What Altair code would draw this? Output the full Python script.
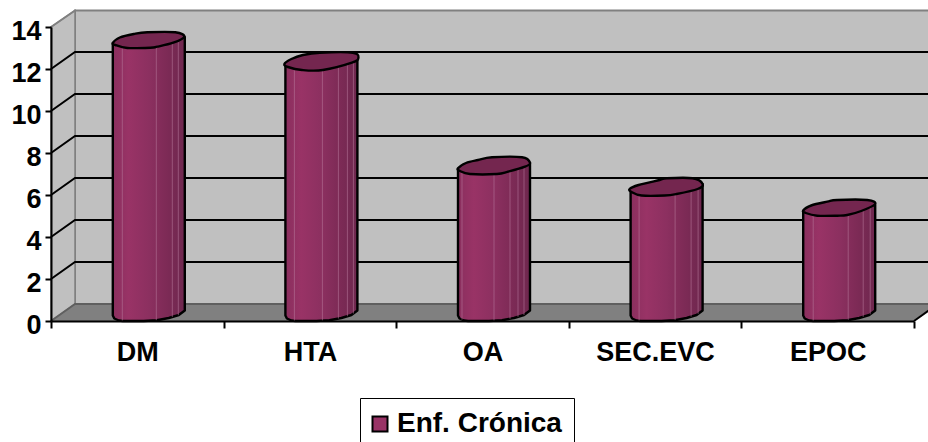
import altair as alt
import numpy as np
import pandas as pd

# Chart values
categories = ["DM", "HTA", "OA", "SEC.EVC", "EPOC"]
values = [13, 12, 7, 6, 5]
series_name = "Enf. Crónica"
y_levels = [0, 2, 4, 6, 8, 10, 12, 14]

# Plot frame and the depth of the pseudo-3D box, in pixels
PLOT_W, PLOT_H = 863, 294
DEPTH_X, DEPTH_Y = 24, 17
UX = 5 / PLOT_W          # x data units per pixel
UY = 14 / PLOT_H         # y data units per pixel
dx = DEPTH_X * UX
dy = DEPTH_Y * UY
TOP = 310.5 * UY         # upper edge of the back wall
X_END = 5 + dx

# Cylinder geometry, in pixels relative to the centre of each column
HALF = 36
CENTER_SHIFT = 11.5
bottom_dx = [-36, -34.5, -30, -26, -5, 8, 20, 30, 36]
bottom_px = [5.5, 2.5, 0.5, 0, 0, 0.8, 3, 6, 10.5]

# Outline of each top cap, relative to the point at the column's value
cap_outlines = {
    "DM": [(-36, -5), (-29, -10.5), (-15, -14), (-1.5, -15.7), (26.5, -15.7), (35.5, -11.3),
           (24.5, -5.3), (8.5, -1.3), (1.5, -0.3), (-21.5, 0), (-33.5, -3)],
    "HTA": [(-37, -5), (-30, -10), (-18.5, -14), (-1.5, -16.3), (31.5, -16.3), (37, -11),
            (30.5, -6.3), (1.5, 1), (-19.5, 1), (-33.5, -2)],
    "OA": [(-36, -5.7), (-28, -11), (-16, -14), (-2, -16.7), (28, -16.7), (36, -11.3),
           (31, -7.3), (14, -2.3), (3, 0), (-24, 0), (-34, -3)],
    "SEC.EVC": [(-37, -6), (-28, -10), (-7, -15), (0, -16.7), (26, -16.7), (36, -11),
                (31, -6), (10, -1), (-2, 0.5), (-25, 0.5), (-35, -3)],
    "EPOC": [(-36, -5.5), (-28, -10.5), (-12, -14.3), (-2, -16), (28, -16), (36, -12),
             (22, -5), (8, -1), (-2, -0.3), (-22, -0.3), (-33.5, -3)],
}

# Thin pale seams on the cylinder faces
seam_offsets = {
    "DM": [-26.5, 7.5, 23.5, 29.5],
    "HTA": [-27, 1, 17, 26, 32],
    "OA": [-32, 0, 16, 24, 30],
    "SEC.EVC": [-27.5, 8.5, 24.5, 31.5],
    "EPOC": [-26, 9, 24, 31],
}


def smooth_path(points):
    """Closed SVG path through an outline, using Catmull-Rom tangents."""
    n = len(points)
    d = f"M{points[0][0]:.2f},{points[0][1]:.2f}"
    for i in range(n):
        p0, p1, p2, p3 = (points[(i + k) % n] for k in (-1, 0, 1, 2))
        c1 = (p1[0] + (p2[0] - p0[0]) / 6, p1[1] + (p2[1] - p0[1]) / 6)
        c2 = (p2[0] - (p3[0] - p1[0]) / 6, p2[1] - (p3[1] - p1[1]) / 6)
        d += f"C{c1[0]:.2f},{c1[1]:.2f},{c2[0]:.2f},{c2[1]:.2f},{p2[0]:.2f},{p2[1]:.2f}"
    return d + "Z"


def center_x(i):
    return i + 0.5 + CENTER_SHIFT * UX


def shoulder_px(offset):
    """Height of the hidden rear edge of the cap above the value point."""
    return 5 + (offset + HALF) / (2 * HALF) * 6


# Tables built from the arrays above
body_rows, seam_rows = [], []
for i, (cat, val) in enumerate(zip(categories, values)):
    for off in sorted(set(bottom_dx)):
        body_rows.append({
            "cat": cat,
            "x": center_x(i) + off * UX,
            "top": val + shoulder_px(off) * UY,
            "base": np.interp(off, bottom_dx, bottom_px) * UY,
        })
    for off in seam_offsets[cat]:
        seam_rows.append({
            "x": center_x(i) + off * UX,
            "top": val + shoulder_px(off) * UY,
            "base": np.interp(off, bottom_dx, bottom_px) * UY,
        })
body_df = pd.DataFrame(body_rows)
seam_df = pd.DataFrame(seam_rows)
cap_df = pd.DataFrame({
    "cat": categories,
    "x": [center_x(i) for i in range(len(categories))],
    "value": values,
    "cap": [smooth_path(cap_outlines[c]) for c in categories],
})

grid_rows = []
for level in y_levels:
    for x_pos, y_pos in [(0, level), (dx, level + dy), (X_END, level + dy)]:
        grid_rows.append({"level": level, "x": x_pos, "y": y_pos})
grid_df = pd.DataFrame(grid_rows)
inner_grid = grid_df[~grid_df.level.isin([0, 14])]

axis_font = dict(labelFont="Liberation Sans", labelFontWeight="bold", labelFontSize=27, labelColor="black")

x_num = alt.Scale(domain=[0, 5], nice=False, zero=False)
y_num = alt.Scale(domain=[0, 14], nice=False)
# Every layer shares one value axis, drawn above the marks
y_axis_spec = alt.Axis(
    title=None, values=y_levels, grid=False, domainColor="black", domainWidth=2,
    tickColor="black", tickWidth=2, tickSize=6, labelPadding=4, labelOffset=4, zindex=1, **axis_font,
)
X = lambda f: alt.X(f, type="quantitative", scale=x_num, axis=None)
Y = lambda f: alt.Y(f, type="quantitative", scale=y_num, axis=y_axis_spec)

# Back wall, side wall and floor of the box
wall = alt.Chart(pd.DataFrame({"x": [dx], "x2": [X_END + 0.2], "y": [dy], "y2": [TOP]})).mark_rect(
    fill="#c0c0c0", stroke="#808080", strokeWidth=2
).encode(x=X("x"), x2="x2", y=Y("y"), y2="y2")

side = alt.Chart(pd.DataFrame({
    "x": [0, dx], "y": [14, TOP], "y2": [0, dy]
})).mark_area(fill="#c0c0c0", stroke="#808080", strokeWidth=1.5).encode(x=X("x"), y=Y("y"), y2="y2")

floor = alt.Chart(pd.DataFrame({
    "x": [0, dx, 5, X_END], "y": [0, dy, dy, dy], "y2": [0, 0, 0, dy]
})).mark_area(fill="#808080").encode(x=X("x"), y=Y("y"), y2="y2")

floor_back = alt.Chart(grid_df[grid_df.level == 0]).mark_line(
    color="#5f5f5f", strokeWidth=2
).encode(x=X("x"), y=Y("y"), detail="level:N")

top_edge = alt.Chart(grid_df[grid_df.level == 14].iloc[:2].assign(
    y=[14, TOP]
)).mark_line(color="#808080", strokeWidth=2).encode(x=X("x"), y=Y("y"))

floor_edge = alt.Chart(pd.DataFrame({"x": [5, X_END], "y": [0, dy]})).mark_line(
    color="black", strokeWidth=2
).encode(x=X("x"), y=Y("y"))

grid = alt.Chart(inner_grid).mark_line(color="black", strokeWidth=2).encode(
    x=X("x"), y=Y("y"), detail="level:N"
)

# Cylinder bodies
shade = alt.Gradient(
    gradient="linear", x1=0, y1=0, x2=1, y2=0,
    stops=[
        alt.GradientStop(color="#8a2f5e", offset=0),
        alt.GradientStop(color="#993366", offset=0.22),
        alt.GradientStop(color="#8c3060", offset=0.5),
        alt.GradientStop(color="#7f2b57", offset=0.72),
        alt.GradientStop(color="#6e274e", offset=1),
    ],
)
bodies = alt.Chart(body_df).mark_area(fill=shade, stroke="black", strokeWidth=2.4, strokeJoin="round").encode(
    x=X("x"), y=Y("top"), y2="base", detail="cat:N"
)
seams = alt.Chart(seam_df).mark_rule(color="#b87a9c", strokeWidth=1, opacity=0.55).encode(
    x=X("x"), y=Y("top"), y2="base"
)
caps = alt.Chart(cap_df).mark_point(
    filled=True, size=4, fill="#74264f", stroke="black", strokeWidth=2.4, opacity=1, strokeJoin="round"
).encode(x=X("x"), y=Y("value"), shape=alt.Shape("cap:N", scale=None))

# Legend entry for the single series
legend = alt.Chart(pd.DataFrame({"series": [series_name], "x": [0], "y": [0]})).mark_square(opacity=0).encode(
    x=X("x"), y=Y("y"),
    color=alt.Color(
        "series:N",
        scale=alt.Scale(domain=[series_name], range=["#993366"]),
        legend=alt.Legend(
            title=None, orient="none", legendX=309, legendY=371,
            symbolType="square", symbolSize=225, symbolOpacity=1, symbolOffset=-6,
            symbolStrokeColor="black", symbolStrokeWidth=2,
            labelFont="Liberation Sans", labelFontWeight="bold", labelFontSize=28,
            labelColor="black", labelLimit=300, labelOffset=3,
            strokeColor="black", fillColor="white", padding=12,
        ),
    ),
)

# Category axis with ticks between the columns
x_axis = alt.Chart(pd.DataFrame({"cat": categories})).mark_rule(opacity=0).encode(
    x=alt.X("cat:N", sort=categories,
            scale=alt.Scale(domain=categories, paddingInner=0, paddingOuter=0),
            axis=alt.Axis(
                title=None, orient="bottom", labelAngle=0, grid=False, tickBand="extent",
                domainColor="black", domainWidth=2, tickColor="black", tickWidth=2, tickSize=7,
                labelPadding=11, zindex=1, **axis_font,
            )),
)

chart = alt.layer(
    wall, side, floor, floor_back, top_edge, floor_edge, grid,
    bodies, seams, caps, legend, x_axis,
).resolve_scale(x="independent").properties(
    width=PLOT_W, height=PLOT_H,
    autosize=alt.AutoSizeParams(type="none"),
    padding={"left": 51, "top": 27, "right": 14, "bottom": 121},
    background="white",
).configure_view(stroke=None)

chart.save("out.html", embed_options={"renderer": "svg", "actions": False})
